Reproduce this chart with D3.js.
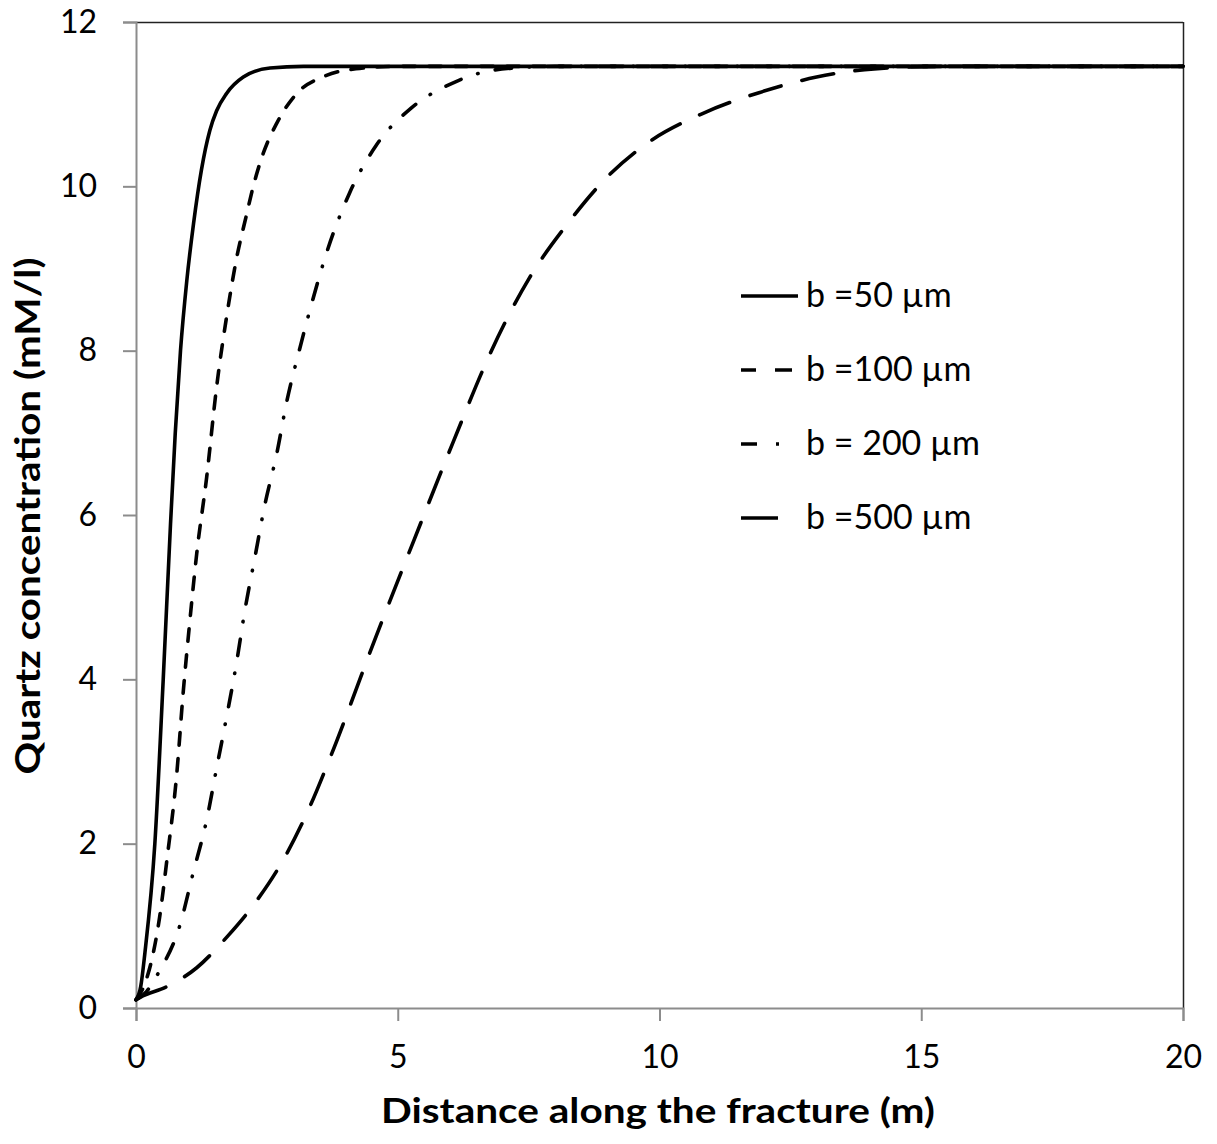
<!DOCTYPE html>
<html><head><meta charset="utf-8">
<script src="https://cdn.jsdelivr.net/npm/d3@7"></script>
<style>
html,body{margin:0;padding:0;background:#fff;}
text{font-family:Lato, "Open Sans", sans-serif;fill:#000;}
</style></head>
<body>
<svg id="chart" width="1217" height="1144"></svg>
<script>
// ---- data ----
const xTicks = [0, 5, 10, 15, 20];
const yTicks = [0, 2, 4, 6, 8, 10, 12];
const seriesNames = ["b =50 \u00b5m", "b =100 \u00b5m", "b = 200 \u00b5m", "b =500 \u00b5m"];
const b50 = [[0,0.1],[0.09,0.26],[0.17,0.67],[0.36,2.0],[0.52,4.0],[0.66,5.9],[0.75,7.0],[0.85,8.0],[0.97,8.85],[1.1,9.55],[1.25,10.2],[1.41,10.68],[1.54,10.92],[1.73,11.13],[2.05,11.33],[2.56,11.44],[3.2,11.46],[20,11.46]];
const b100 = [[0,0.1],[0.14,0.25],[0.33,0.67],[0.45,1.1],[0.59,1.8],[0.78,2.86],[0.9,3.83],[1.03,4.72],[1.16,5.53],[1.35,6.46],[1.54,7.56],[1.73,8.41],[1.92,9.12],[2.11,9.65],[2.24,10.0],[2.43,10.4],[2.69,10.77],[3.07,11.13],[3.6,11.34],[4.2,11.43],[5.0,11.46],[20,11.46]];
const b200 = [[0,0.1],[0.2,0.2],[0.43,0.43],[0.84,1.01],[1.09,1.64],[1.35,2.29],[1.54,2.92],[1.73,3.54],[1.92,4.2],[2.08,4.84],[2.27,5.48],[2.46,6.12],[2.69,6.75],[2.88,7.38],[3.13,8.03],[3.39,8.65],[3.62,9.15],[4.08,9.92],[4.59,10.5],[5.25,10.95],[6.06,11.26],[6.57,11.38],[7.2,11.44],[8,11.46],[20,11.46]];
const b500 = [[0,0.1],[0.08,0.13],[0.59,0.26],[1.16,0.49],[1.73,0.86],[2.31,1.31],[2.81,1.8],[3.32,2.45],[3.71,3.05],[4.59,4.53],[5.32,5.71],[6.06,6.89],[6.79,8.0],[7.51,8.88],[8.25,9.55],[8.98,10.1],[9.71,10.5],[10.8,10.88],[11.9,11.14],[13.0,11.33],[14.1,11.43],[15.5,11.46],[20,11.46]];
const seriesData = [b50, b100, b200, b500];

// ---- styles ----
const dashes = [null, "12.5,13.5", "16.5,17.5,0.5,17.5", "32.5,21.5"];
const legendDashes = [null, "15,19,17,200", "16,19,3,200", null];
const legendEnds = [798, 792, 780, 778];

const svg = d3.select("#chart");
const m = {left:136, right:1183, top:22, bottom:1008};
const x = d3.scaleLinear().domain([0,20]).range([m.left, m.right]);
const y = d3.scaleLinear().domain([0,12]).range([m.bottom, m.top]);

// frame top/right
svg.append("line").attr("x1",m.left).attr("x2",m.right).attr("y1",m.top+0.5).attr("y2",m.top+0.5)
  .attr("stroke","#222").attr("stroke-width",1.5);
svg.append("line").attr("x1",m.right+0.5).attr("x2",m.right+0.5).attr("y1",m.top).attr("y2",m.bottom)
  .attr("stroke","#222").attr("stroke-width",1.5);

// axes
const yAxis = svg.append("g").attr("transform",`translate(${m.left},0)`)
  .call(d3.axisLeft(y).tickValues(yTicks).tickSize(13).tickPadding(26).tickFormat(d3.format("d")));
const xAxis = svg.append("g").attr("transform",`translate(0,${m.bottom})`)
  .call(d3.axisBottom(x).tickValues(xTicks).tickSize(13).tickPadding(24).tickFormat(d3.format("d")));
[yAxis,xAxis].forEach(g=>{
  g.select(".domain").attr("stroke","#8c8c8c").attr("stroke-width",2);
  g.selectAll(".tick line").attr("stroke","#8c8c8c").attr("stroke-width",2);
  g.selectAll(".tick text").attr("font-size",32).attr("font-family","Lato, 'Open Sans', sans-serif").attr("fill","#000");
});

// lines
const line = d3.line().x(d=>x(d[0])).y(d=>y(d[1])).curve(d3.curveMonotoneX);
seriesData.forEach((s,i)=>{
  svg.append("path").datum(s).attr("d",line)
    .attr("fill","none").attr("stroke","#000").attr("stroke-width",3.6)
    .attr("stroke-linecap", i===0 ? "butt" : "round")
    .attr("stroke-linejoin","round")
    .attr("stroke-dasharray", dashes[i]);
});

// legend
const legY = [296, 370, 444, 518];
seriesNames.forEach((name,i)=>{
  const g = svg.append("g");
  g.append("line").attr("x1",741).attr("x2", legendEnds[i]).attr("y1",legY[i]).attr("y2",legY[i])
    .attr("stroke","#000").attr("stroke-width",3.6)
    .attr("stroke-dasharray", legendDashes[i]);
  g.append("text").attr("x",806).attr("y",legY[i]+11).attr("font-size",34).text(name);
});

// axis titles
svg.append("text").attr("x",658).attr("y",1123).attr("text-anchor","middle")
  .attr("font-size",35).attr("font-weight","bold")
  .attr("textLength",554).attr("lengthAdjust","spacingAndGlyphs")
  .text("Distance along the fracture (m)");
svg.append("text").attr("transform","translate(40,516) rotate(-90)").attr("text-anchor","middle")
  .attr("font-size",35).attr("font-weight","bold")
  .attr("textLength",517).attr("lengthAdjust","spacingAndGlyphs")
  .text("Quartz concentration (mM/l)");
</script>
</body></html>
